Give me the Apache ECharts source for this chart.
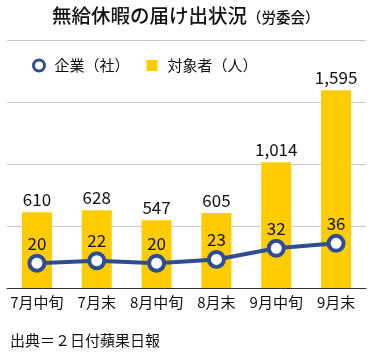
<!DOCTYPE html>
<html><head><meta charset="utf-8">
<script src="https://cdn.jsdelivr.net/npm/echarts@6/dist/echarts.min.js"></script>
<style>html,body{margin:0;padding:0;background:#fff}#c{width:380px;height:355px}</style>
</head><body><div id="c"></div>
<script>
const categories = ['7月中旬','7月末','8月中旬','8月末','9月中旬','9月末'];
const workers = [610, 628, 547, 605, 1014, 1595];
const companies = [20, 22, 20, 23, 32, 36];
const barTicks = [0, 500, 1000, 1500, 2000];

const FONT = '"Noto Sans CJK JP", sans-serif';
const BLUE = '#2F4E92';
const chart = echarts.init(document.getElementById('c'));
chart.setOption({
  backgroundColor: '#fff',
  textStyle: { fontFamily: FONT },
  title: {
    left: 47, top: 1,
    text: '{a|無給休暇の届け出状況}{b|（労委会）}',
    textStyle: {
      fontWeight: 'normal',
      rich: {
        a: { fontSize: 19.5, fontWeight: 500, color: '#111', fontFamily: FONT },
        b: { fontSize: 14.5, fontWeight: 500, color: '#111', fontFamily: FONT, padding: [3,0,0,0] }
      }
    }
  },
  legend: {
    left: 27, top: 53,
    itemWidth: 11, itemHeight: 11, itemGap: 17,
    textStyle: { fontSize: 15, color: '#111', fontFamily: FONT, padding: [0,0,0,5] },
    data: [
      { name: '企業（社）', icon: 'circle', itemStyle: { color: '#fff', borderColor: BLUE, borderWidth: 3 } },
      { name: '対象者（人）', icon: 'rect' }
    ]
  },
  grid: { left: 7, right: 14, top: 40, bottom: 67, containLabel: false },
  xAxis: {
    type: 'category', data: categories,
    axisTick: { show: false },
    axisLine: { lineStyle: { color: '#333', width: 1 } },
    axisLabel: { fontSize: 15, color: '#111', margin: 7, fontFamily: FONT, interval: 0 }
  },
  yAxis: [
    { type: 'value', min: barTicks[0], max: barTicks[barTicks.length-1], interval: 500,
      axisLabel: { show: false }, axisLine: { show: false }, axisTick: { show: false },
      splitLine: { lineStyle: { color: '#c8c8c8', width: 1 } } },
    { type: 'value', min: 0, max: 200, show: false, splitLine: { show: false } }
  ],
  series: [
    { name: '対象者（人）', type: 'bar', data: workers, barWidth: 30,
      itemStyle: { color: '#FFCC00' },
      label: { show: true, position: 'top', distance: 4, fontSize: 17, color: '#111', fontFamily: FONT,
        formatter: p => p.value.toLocaleString('en-US') } },
    { name: '企業（社）', type: 'line', yAxisIndex: 1, data: companies,
      symbol: 'circle', symbolSize: 15,
      lineStyle: { color: BLUE, width: 4 },
      itemStyle: { color: '#fff', borderColor: BLUE, borderWidth: 4 },
      label: { show: true, position: 'top', distance: 2, fontSize: 17, color: '#111', fontFamily: FONT },
      z: 5 }
  ],
  graphic: [
    { type: 'text', left: 10, top: 333, style: { text: '出典＝２日付蘋果日報', fontSize: 15, fill: '#111', fontFamily: FONT } }
  ]
});
</script></body></html>
